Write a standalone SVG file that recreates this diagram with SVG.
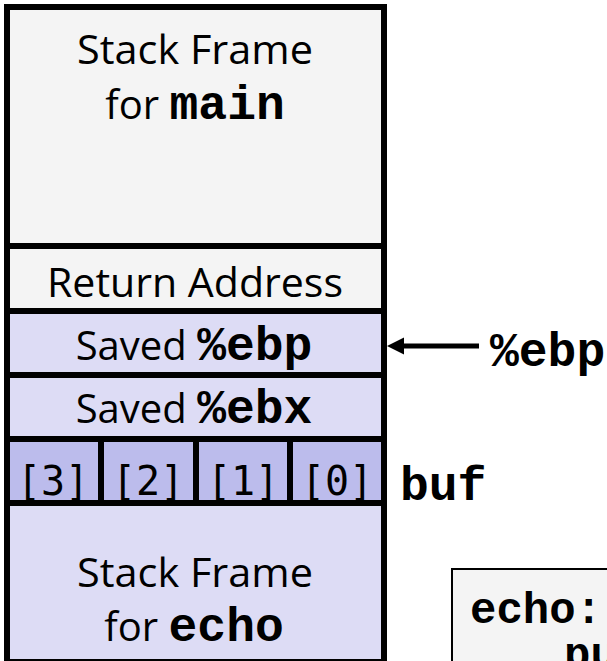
<svg xmlns="http://www.w3.org/2000/svg" width="607" height="661" viewBox="0 0 607 661">
<style>
.sans{font-family:"Open Sans","Noto Sans","Liberation Sans",sans-serif;font-size:40px;fill:#000}
.mono{font-family:"Liberation Mono","Courier New",monospace;font-weight:bold;fill:#000}
.cell{font-family:"DejaVu Sans Mono","Liberation Mono",monospace;font-size:40px;fill:#000}
.div{stroke:#000;stroke-width:6;fill:none}
</style>
<rect width="607" height="661" fill="#ffffff"/>
<g id="stack">
<rect x="10" y="10" width="371" height="301" fill="#f4f4f4"/>
<rect x="10" y="311" width="371" height="351" fill="#dddcf5"/>
<rect x="10" y="439" width="371" height="64" fill="#bcbcec"/>
</g>
<g id="frame-main">
<text class="sans" x="195" y="64" text-anchor="middle" textLength="236" lengthAdjust="spacingAndGlyphs">Stack Frame</text>
<text class="sans" x="195" y="119" text-anchor="middle">for <tspan class="mono" font-size="48">main</tspan></text>
</g>
<g id="return-address">
<text class="sans" x="195" y="297" text-anchor="middle" textLength="296" lengthAdjust="spacingAndGlyphs">Return Address</text>
</g>
<g id="saved-ebp">
<text class="sans" x="194" y="360" text-anchor="middle">Saved <tspan class="mono" font-size="48">%ebp</tspan></text>
</g>
<g id="saved-ebx">
<text class="sans" x="194" y="423" text-anchor="middle">Saved <tspan class="mono" font-size="48">%ebx</tspan></text>
</g>
<g id="buf">
<text class="cell" x="53" y="495" text-anchor="middle">[3]</text>
<text class="cell" x="148" y="495" text-anchor="middle">[2]</text>
<text class="cell" x="243" y="495" text-anchor="middle">[1]</text>
<text class="cell" x="337" y="495" text-anchor="middle">[0]</text>
</g>
<g id="frame-echo">
<text class="sans" x="195" y="587" text-anchor="middle" textLength="236" lengthAdjust="spacingAndGlyphs">Stack Frame</text>
<text class="sans" x="194" y="641" text-anchor="middle">for <tspan class="mono" font-size="48">echo</tspan></text>
</g>
<g id="lines">
<rect class="div" x="7" y="7" width="377" height="655"/>
<line class="div" x1="7" y1="246" x2="384" y2="246"/>
<line class="div" x1="7" y1="311" x2="384" y2="311"/>
<line class="div" x1="7" y1="375" x2="384" y2="375"/>
<line class="div" x1="7" y1="439" x2="384" y2="439"/>
<line class="div" x1="7" y1="503" x2="384" y2="503"/>
<line class="div" x1="101" y1="439" x2="101" y2="503"/>
<line class="div" x1="196" y1="439" x2="196" y2="503"/>
<line class="div" x1="290" y1="439" x2="290" y2="503"/>
</g>
<g id="connectors">
<line x1="479" y1="346" x2="402" y2="346" stroke="#000" stroke-width="5"/>
<polygon points="387,346 404,337.5 404,354.5" fill="#000"/>
</g>
<g id="label-ebp">
<text class="mono" x="490" y="366" font-size="48">%ebp</text>
</g>
<g id="label-buf">
<text class="mono" x="400" y="500" font-size="48">buf</text>
</g>
<g id="code">
<rect x="452" y="569" width="170" height="110" fill="#f4f4f4" stroke="#000" stroke-width="2"/>
<text class="mono" x="470" y="623" font-size="44">echo:</text>
<text class="mono" x="564" y="668" font-size="44">pu</text>
</g>
</svg>
